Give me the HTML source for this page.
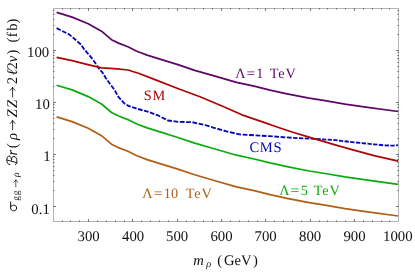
<!DOCTYPE html>
<html><head><meta charset="utf-8"><title>plot</title>
<style>
html,body{margin:0;padding:0;background:#fff;}
body{width:415px;height:272px;overflow:hidden;}
svg{display:block;will-change:transform;}
text{font-family:"Liberation Serif",serif;text-rendering:geometricPrecision;}
</style></head><body>
<svg width="415" height="272" viewBox="0 0 415 272">
<rect width="415" height="272" fill="#fff"/>
<g fill="none" stroke-linejoin="round" stroke-linecap="butt" stroke-width="1.75">
<path d="M56.6,12.4 L72.1,17.1 L88.2,23.8 L101.5,31.2 L111.5,39.7 L119.1,43.4 L127.9,46.8 L136.8,51.2 L147.1,55.1 L160.0,59.1 L177.1,64.4 L194.7,70.3 L215.0,76.2 L236.5,82.4 L254.1,86.2 L270.0,90.1 L287.0,93.8 L309.1,98.2 L325.0,100.7 L345.0,104.1 L364.1,106.8 L398.2,111.5" stroke="#5e0668"/>
<path d="M56.6,85.2 L72.1,89.9 L88.2,96.6 L101.5,104.0 L111.5,112.5 L119.1,116.2 L127.9,119.6 L136.8,124.0 L147.1,127.9 L160.0,131.9 L177.1,137.2 L194.7,143.1 L215.0,149.0 L236.5,155.2 L254.1,159.0 L270.0,162.9 L287.0,166.6 L309.1,171.0 L325.0,173.5 L345.0,176.9 L364.1,179.6 L398.2,184.3" stroke="#0caa0c" stroke-width="1.7"/>
<path d="M56.6,116.9 L72.1,121.6 L88.2,128.3 L101.5,135.7 L111.5,144.2 L119.1,147.9 L127.9,151.3 L136.8,155.7 L147.1,159.6 L160.0,163.6 L177.1,168.9 L194.7,174.8 L215.0,180.7 L236.5,186.9 L254.1,190.7 L270.0,194.6 L287.0,198.3 L309.1,202.7 L325.0,205.2 L345.0,208.6 L364.1,211.3 L398.2,216.0" stroke="#b05e16" stroke-width="1.7"/>
<path d="M56.6,28.2 L69.1,34.4 L75.0,39.3 L80.9,44.5 L83.8,48.8 L92.6,59.1 L98.5,67.9 L102.4,72.5 L105.9,78.2 L109.7,83.5 L114.6,90.0 L118.2,96.6 L124.1,103.2 L128.5,105.9 L137.4,108.8 L149.1,112.1 L157.9,115.3 L168.0,120.5 L179.0,121.9 L192.3,122.2 L205.5,125.2 L213.2,127.6 L226.4,131.3 L239.6,134.4 L250.0,135.0 L270.0,136.2 L292.0,137.8 L314.0,138.8 L336.0,140.2 L352.0,142.1 L374.0,144.3 L384.0,145.3 L390.0,145.6 L394.0,145.5 L398.3,145.1" stroke="#0808b4" stroke-width="1.85" stroke-dasharray="4.65 1.55 4.65 1.55 4.65 1.55 4.65 1.55 4.65 1.55 4.65 1.55 4.65 1.55 4.65 1.55 4.65 1.55 4.65 1.55 4.65 1.55 4.65 1.55 4.65 1.55 4.65 1.55 4.65 1.55 4.65 1.55 4.65 1.55 4.65 1.55 4.65 1.55 4.65 1.55 4.65 1.55 4.65 1.55 4.77 1.59 4.77 1.59 4.77 1.59 4.77 1.59 4.77 1.59 4.77 1.59 4.77 1.59 4.77 1.59 4.87 1.62 4.87 1.62 4.87 1.62 4.87 1.62 4.87 1.62 4.87 1.62 4.87 1.62 4.87 1.62 4.71 1.57 4.71 1.57 4.71 1.57 4.71 1.57 4.71 1.57 4.71 1.57 4.37 1.46 4.37 1.46 4.37 1.46 4.37 1.46 4.24 1.41 4.24 1.41 4.24 1.41 4.24 1.41 4.24 1.41 4.24 1.41 4.37 1.46 4.31 1.44 4.31 1.44 4.31 1.44 4.31 1.44 4.31 1.44 4.31 1.44 4.31 1.44 4.31 1.44 4.31 1.44 4.31 1.44"/>
<path d="M56.6,57.4 L72.1,60.6 L86.8,64.3 L101.5,67.9 L110.0,68.4 L117.1,68.8 L128.1,70.0 L139.1,73.5 L155.0,79.6 L179.0,89.0 L200.0,96.8 L222.0,106.0 L241.9,114.8 L261.7,121.6 L280.0,128.0 L292.0,132.0 L314.0,138.7 L336.0,145.1 L352.0,149.6 L374.0,155.6 L398.3,161.2" stroke="#ae0404"/>
</g>
<rect x="53.5" y="8.5" width="345.0" height="213.0" fill="none" stroke="#b4b4b4" stroke-width="1"/>
<g stroke="#727272" stroke-width="1" fill="none">
<path d="M62.5,222.0V220.4M62.5,8.0V9.6M70.5,222.0V220.4M70.5,8.0V9.6M79.5,222.0V220.4M79.5,8.0V9.6M88.5,222.0V219.1M88.5,8.0V10.9M97.5,222.0V220.4M97.5,8.0V9.6M106.5,222.0V220.4M106.5,8.0V9.6M115.5,222.0V220.4M115.5,8.0V9.6M124.5,222.0V220.4M124.5,8.0V9.6M132.5,222.0V219.1M132.5,8.0V10.9M141.5,222.0V220.4M141.5,8.0V9.6M150.5,222.0V220.4M150.5,8.0V9.6M159.5,222.0V220.4M159.5,8.0V9.6M168.5,222.0V220.4M168.5,8.0V9.6M177.5,222.0V219.1M177.5,8.0V10.9M186.5,222.0V220.4M186.5,8.0V9.6M194.5,222.0V220.4M194.5,8.0V9.6M203.5,222.0V220.4M203.5,8.0V9.6M212.5,222.0V220.4M212.5,8.0V9.6M221.5,222.0V219.1M221.5,8.0V10.9M230.5,222.0V220.4M230.5,8.0V9.6M239.5,222.0V220.4M239.5,8.0V9.6M248.5,222.0V220.4M248.5,8.0V9.6M257.5,222.0V220.4M257.5,8.0V9.6M265.5,222.0V219.1M265.5,8.0V10.9M274.5,222.0V220.4M274.5,8.0V9.6M283.5,222.0V220.4M283.5,8.0V9.6M292.5,222.0V220.4M292.5,8.0V9.6M301.5,222.0V220.4M301.5,8.0V9.6M310.5,222.0V219.1M310.5,8.0V10.9M319.5,222.0V220.4M319.5,8.0V9.6M327.5,222.0V220.4M327.5,8.0V9.6M336.5,222.0V220.4M336.5,8.0V9.6M345.5,222.0V220.4M345.5,8.0V9.6M354.5,222.0V219.1M354.5,8.0V10.9M363.5,222.0V220.4M363.5,8.0V9.6M372.5,222.0V220.4M372.5,8.0V9.6M381.5,222.0V220.4M381.5,8.0V9.6M389.5,222.0V220.4M389.5,8.0V9.6M53.0,206.5H55.9M399.0,206.5H396.1M53.0,190.5H54.5M399.0,190.5H397.4M53.0,181.5H54.5M399.0,181.5H397.4M53.0,175.5H54.5M399.0,175.5H397.4M53.0,170.5H54.5M399.0,170.5H397.4M53.0,166.5H54.5M399.0,166.5H397.4M53.0,162.5H54.5M399.0,162.5H397.4M53.0,159.5H54.5M399.0,159.5H397.4M53.0,156.5H54.5M399.0,156.5H397.4M53.0,154.5H55.9M399.0,154.5H396.1M53.0,138.5H54.5M399.0,138.5H397.4M53.0,129.5H54.5M399.0,129.5H397.4M53.0,123.5H54.5M399.0,123.5H397.4M53.0,118.5H54.5M399.0,118.5H397.4M53.0,114.5H54.5M399.0,114.5H397.4M53.0,110.5H54.5M399.0,110.5H397.4M53.0,107.5H54.5M399.0,107.5H397.4M53.0,104.5H54.5M399.0,104.5H397.4M53.0,102.5H55.9M399.0,102.5H396.1M53.0,86.5H54.5M399.0,86.5H397.4M53.0,77.5H54.5M399.0,77.5H397.4M53.0,71.5H54.5M399.0,71.5H397.4M53.0,66.5H54.5M399.0,66.5H397.4M53.0,62.5H54.5M399.0,62.5H397.4M53.0,58.5H54.5M399.0,58.5H397.4M53.0,55.5H54.5M399.0,55.5H397.4M53.0,52.5H54.5M399.0,52.5H397.4M53.0,50.5H55.9M399.0,50.5H396.1M53.0,34.5H54.5M399.0,34.5H397.4M53.0,25.5H54.5M399.0,25.5H397.4M53.0,19.5H54.5M399.0,19.5H397.4M53.0,14.5H54.5M399.0,14.5H397.4M53.0,10.5H54.5M399.0,10.5H397.4"/>
</g>
<g fill="#111">
<text x="27.00" y="57.10" font-size="14.80">100</text>
<text x="35.10" y="109.20" font-size="14.80">10</text>
<text x="43.20" y="161.30" font-size="14.80">1</text>
<text x="31.34" y="213.70" font-size="14.80">0.1</text>
<text x="77.53" y="240.70" font-size="14.80">300</text>
<text x="122.03" y="240.70" font-size="14.80">400</text>
<text x="166.03" y="240.70" font-size="14.80">500</text>
<text x="210.43" y="240.70" font-size="14.80">600</text>
<text x="254.55" y="240.70" font-size="14.80">700</text>
<text x="299.05" y="240.70" font-size="14.80">800</text>
<text x="343.38" y="240.70" font-size="14.80">900</text>
<text x="383.06" y="240.70" font-size="14.80">1000</text>
</g>
<g fill="#5e0668"><text x="235.26" y="78.00" font-size="14.30">Λ</text><text transform="translate(246.53,78.00) scale(1.08,1)" x="0" y="0" font-size="14.30">=</text><text x="256.24" y="78.00" font-size="14.30">1</text><text x="269.84" y="78.00" font-size="14.30" letter-spacing="0.8">TeV</text></g>
<g fill="#0caa0c"><text x="279.26" y="195.20" font-size="14.30">Λ</text><text transform="translate(290.53,195.20) scale(1.08,1)" x="0" y="0" font-size="14.30">=</text><text x="300.67" y="195.20" font-size="14.30">5</text><text x="313.84" y="195.20" font-size="14.30" letter-spacing="0.8">TeV</text></g>
<g fill="#b05e16"><text x="142.36" y="197.50" font-size="14.30">Λ</text><text transform="translate(153.63,197.50) scale(1.08,1)" x="0" y="0" font-size="14.30">=</text><text x="163.74" y="197.50" font-size="14.30">10</text><text x="185.74" y="197.50" font-size="14.30" letter-spacing="0.8">TeV</text></g>
<text x="143.84" y="100.20" font-size="14.30" fill="#ae0404" letter-spacing="0.6">SM</text>
<text x="249.40" y="152.00" font-size="14.60" fill="#0808b4" letter-spacing="0.7">CMS</text>
<g fill="#111">
<text x="193.27" y="264.70" font-size="14.60" font-style="italic">m</text>
<text x="206.16" y="267.00" font-size="10.30" font-style="italic">ρ</text>
<text x="217.26" y="264.70" font-size="14.60">(</text>
<text x="224.00" y="264.70" font-size="14.60">GeV</text>
<text x="253.03" y="264.70" font-size="14.60">)</text>
</g>
<g transform="translate(16.7,211.5) rotate(-90)" fill="#111">
<path d="M9.5,-6.1L3.5,-6.1C1.7,-6.1 0.7,-4.6 0.7,-3.0C0.7,-1.3 1.8,-0.1 3.5,-0.1C5.2,-0.1 6.3,-1.4 6.3,-3.0C6.3,-4.4 5.7,-5.5 4.6,-6.05" fill="none" stroke="#111" stroke-width="1.0" stroke-linecap="round" stroke-linejoin="round"/>
<text x="10.69" y="2.00" font-size="9.60">g</text>
<text x="16.19" y="2.00" font-size="9.60">g</text>
<path d="M24.60,-0.90H31.60M29.30,-2.90Q30.57,-1.40 31.60,-0.90Q30.57,-0.40 29.30,1.10" fill="none" stroke="#111" stroke-width="0.70" stroke-linecap="round" stroke-linejoin="round"/>
<text x="34.64" y="2.00" font-size="9.60" font-style="italic">ρ</text>
<path transform="translate(46.5,0) scale(0.93)" d="M0.4,-7.2C0.6,-9.6 2.6,-10.6 5.2,-10.6C8.2,-10.6 9.7,-9.6 9.6,-8.1C9.5,-6.4 7.4,-5.7 5.0,-5.6C7.8,-5.6 9.3,-4.6 9.2,-2.9C9.0,-0.8 6.6,0.2 4.2,0.2C2.4,0.2 1.0,-0.4 0.3,-1.4M5.3,-10.3C4.4,-6.8 3.6,-3.2 2.3,0.4" fill="none" stroke="#111" stroke-width="1.05" stroke-linecap="round" stroke-linejoin="round"/>
<text x="55.90" y="0.00" font-size="14.70" font-style="italic">r</text>
<text x="63.15" y="0.00" font-size="14.70">(</text>
<text x="71.47" y="0.00" font-size="14.70" font-style="italic">ρ</text>
<path d="M81.70,-4.10H91.00M88.00,-6.50Q89.65,-4.70 91.00,-4.10Q89.65,-3.50 88.00,-1.70" fill="none" stroke="#111" stroke-width="0.85" stroke-linecap="round" stroke-linejoin="round"/>
<text x="94.02" y="0.00" font-size="14.70" font-style="italic">Z</text>
<text x="103.42" y="0.00" font-size="14.70" font-style="italic">Z</text>
<path d="M114.50,-4.10H124.20M121.20,-6.50Q122.85,-4.70 124.20,-4.10Q122.85,-3.50 121.20,-1.70" fill="none" stroke="#111" stroke-width="0.85" stroke-linecap="round" stroke-linejoin="round"/>
<text x="127.15" y="0.00" font-size="14.70">2</text>
<text x="136.30" y="0.00" font-size="14.70" font-style="italic">ℓ</text>
<text x="142.05" y="0.00" font-size="14.70">2</text>
<text x="149.30" y="0.00" font-size="14.70" font-style="italic">ν</text>
<text x="157.13" y="0.00" font-size="14.70">)</text>
<text x="168.95" y="0.00" font-size="14.70">(</text>
<text x="174.25" y="0.00" font-size="14.70">f</text>
<text x="180.70" y="0.00" font-size="14.70">b</text>
<text x="188.13" y="0.00" font-size="14.70">)</text>
</g>
</svg></body></html>
